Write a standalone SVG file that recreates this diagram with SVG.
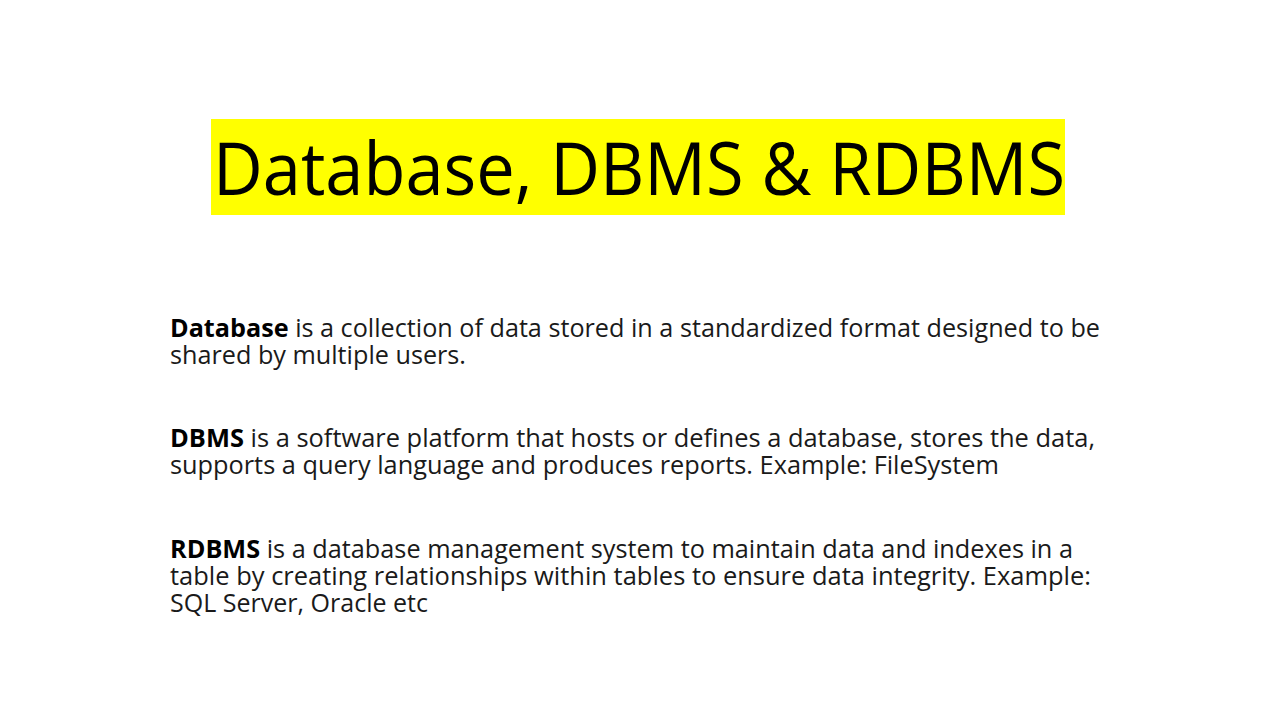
<svg xmlns="http://www.w3.org/2000/svg" width="1280" height="720" viewBox="0 0 1280 720">
<style>
.t{font-family:"Open Sans","Noto Sans","Liberation Sans",sans-serif;fill:#000}
.b{font-family:"Open Sans","Noto Sans","Liberation Sans",sans-serif;font-size:25px;fill:#1a1a1a}
.k{font-weight:bold;fill:#000}
</style>
<rect width="1280" height="720" fill="#ffffff"/>
<g id="title">
<rect x="211" y="119" width="854" height="96" fill="#ffff00"/>
<text class="t" x="213" y="195" font-size="74" textLength="852" lengthAdjust="spacingAndGlyphs">Database, DBMS &amp; RDBMS</text>
</g>
<g id="database">
<text class="b" x="170" y="337" textLength="930" lengthAdjust="spacingAndGlyphs"><tspan class="k">Database</tspan> is a collection of data stored in a standardized format designed to be</text>
<text class="b" x="170" y="364" textLength="296" lengthAdjust="spacingAndGlyphs">shared by multiple users.</text>
</g>
<g id="dbms">
<text class="b" x="170" y="447" textLength="925" lengthAdjust="spacingAndGlyphs"><tspan class="k">DBMS</tspan> is a software platform that hosts or defines a database, stores the data,</text>
<text class="b" x="170" y="474" textLength="829" lengthAdjust="spacingAndGlyphs">supports a query language and produces reports. Example: FileSystem</text>
</g>
<g id="rdbms">
<text class="b" x="170" y="558" textLength="903" lengthAdjust="spacingAndGlyphs"><tspan class="k">RDBMS</tspan> is a database management system to maintain data and indexes in a</text>
<text class="b" x="170" y="585" textLength="921" lengthAdjust="spacingAndGlyphs">table by creating relationships within tables to ensure data integrity. Example:</text>
<text class="b" x="170" y="612" textLength="258" lengthAdjust="spacingAndGlyphs">SQL Server, Oracle etc</text>
</g>
</svg>
